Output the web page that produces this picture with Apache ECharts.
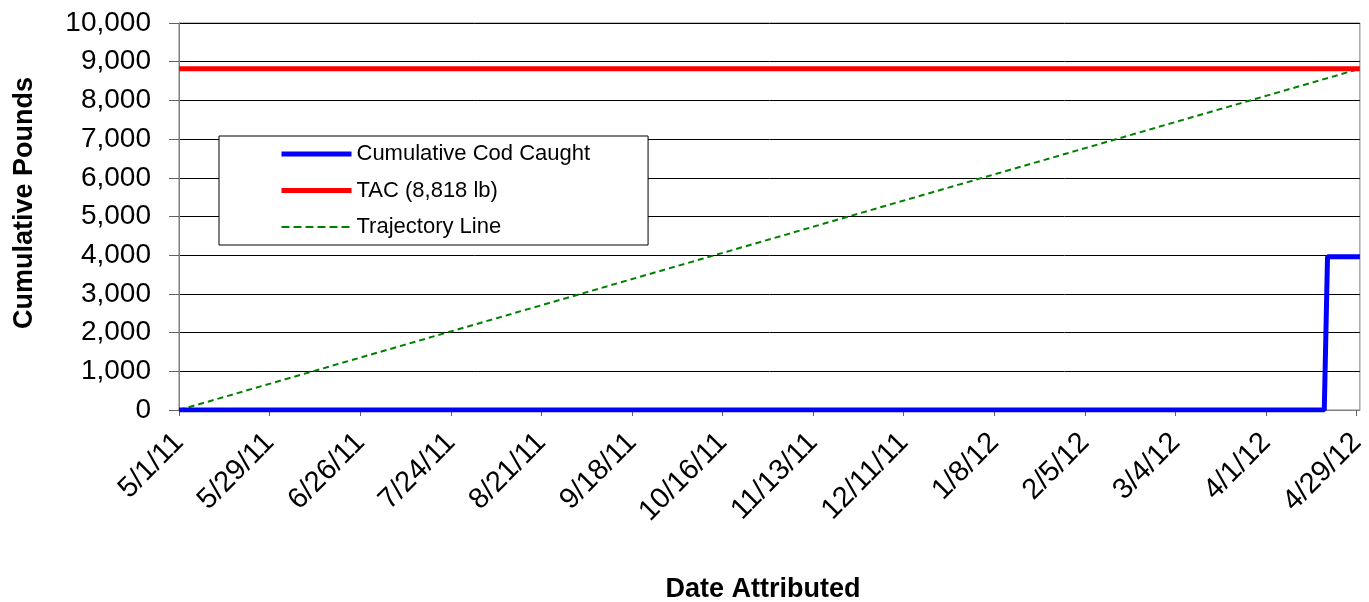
<!DOCTYPE html>
<html>
<head>
<meta charset="utf-8">
<script src="https://cdn.jsdelivr.net/npm/echarts@6/dist/echarts.min.js"></script>
<style>
html,body{margin:0;padding:0;background:#fff;}
#chart{width:1369px;height:602px;}
</style>
</head>
<body>
<div id="chart"></div>
<script>
// ---- data ----
const startDate = '2011-05-01';
const endDate = '2012-04-30';
const tickDates = ['2011-05-01','2011-05-29','2011-06-26','2011-07-24','2011-08-21','2011-09-18','2011-10-16','2011-11-13','2011-12-11','2012-01-08','2012-02-05','2012-03-04','2012-04-01','2012-04-29'];
const tickLabels = ['5/1/11','5/29/11','6/26/11','7/24/11','8/21/11','9/18/11','10/16/11','11/13/11','12/11/11','1/8/12','2/5/12','3/4/12','4/1/12','4/29/12'];
const codDates = ['2011-05-01','2012-04-19','2012-04-20','2012-04-30'];
const codValues = [0, 0, 3960, 3960];
const tacDates = ['2011-05-01','2012-04-30'];
const tacValues = [8818, 8818];
const trajDates = ['2011-05-01','2012-04-30'];
const trajValues = [0, 8818];

const DAY = 86400000;
const t0 = Date.parse(startDate + 'T00:00:00Z');
const dayOf = d => Math.round((Date.parse(d + 'T00:00:00Z') - t0) / DAY);
const pairs = (ds, vs) => ds.map((d, i) => [dayOf(d), vs[i]]);
const tickDays = tickDates.map(dayOf);
const labelMap = {};
tickDays.forEach((d, i) => labelMap[d] = tickLabels[i]);

const FONT = 'Liberation Sans, Arial, sans-serif';
const chart = echarts.init(document.getElementById('chart'), null, {renderer: 'canvas'});
chart.setOption({
  animation: false,
  backgroundColor: '#fff',
  grid: {left: 179, right: 7, top: 23, bottom: 192, show: true, borderColor: '#808080', borderWidth: 1},
  legend: {
    orient: 'vertical', left: 219, top: 136,
    padding: [7, 58, 7, 60],
    itemWidth: 70, itemHeight: 22, itemGap: 14.5,
    borderColor: '#000', borderWidth: 1, backgroundColor: '#fff',
    itemStyle: {opacity: 0},
    textStyle: {fontFamily: FONT, fontSize: 22, color: '#000'},
    data: [
      {name: 'Cumulative Cod Caught', lineStyle: {width: 5}},
      {name: 'TAC (8,818 lb)', lineStyle: {width: 5}},
      {name: 'Trajectory Line', lineStyle: {width: 2, type: [8, 4]}}
    ]
  },
  xAxis: {
    type: 'value', min: 0, max: dayOf(endDate),
    axisLine: {show: true, onZero: false, lineStyle: {color: '#808080', width: 1}},
    axisTick: {show: true, customValues: tickDays, length: 6, lineStyle: {color: '#606060'}},
    axisLabel: {
      customValues: tickDays, rotate: 45, margin: 28,
      formatter: v => labelMap[v] || '',
      fontFamily: FONT, fontSize: 29, color: '#000'
    },
    splitLine: {show: false}
  },
  yAxis: {
    type: 'value', min: 0, max: 10000, interval: 1000,
    axisLine: {show: true, lineStyle: {color: '#808080', width: 1}},
    axisTick: {show: true, length: 10, lineStyle: {color: '#606060'}},
    axisLabel: {
      margin: 28, fontFamily: FONT, fontSize: 28, color: '#000',
      formatter: v => v.toLocaleString('en-US')
    },
    splitLine: {show: true, lineStyle: {color: '#000', width: 1}}
  },
  series: [
    {name: 'Cumulative Cod Caught', type: 'line', data: pairs(codDates, codValues), showSymbol: false, symbol: 'none',
      lineStyle: {color: '#0000ff', width: 5}, itemStyle: {color: '#0000ff'}, z: 5},
    {name: 'TAC (8,818 lb)', type: 'line', data: pairs(tacDates, tacValues), showSymbol: false, symbol: 'none',
      lineStyle: {color: '#ff0000', width: 5}, itemStyle: {color: '#ff0000'}, z: 4},
    {name: 'Trajectory Line', type: 'line', data: pairs(trajDates, trajValues), showSymbol: false, symbol: 'none',
      lineStyle: {color: '#008000', width: 2, type: [6, 4]}, itemStyle: {color: '#008000'}, z: 3}
  ],
  graphic: [
    {type: 'text', x: 763, y: 590, style: {text: 'Date Attributed', fontFamily: FONT, fontSize: 27, fontWeight: 'bold', fill: '#000', align: 'center', verticalAlign: 'middle'}},
    {type: 'text', x: 25, y: 203, rotation: Math.PI / 2, style: {text: 'Cumulative Pounds', fontFamily: FONT, fontSize: 27, fontWeight: 'bold', fill: '#000', align: 'center', verticalAlign: 'middle'}}
  ]
});
</script>
</body>
</html>
